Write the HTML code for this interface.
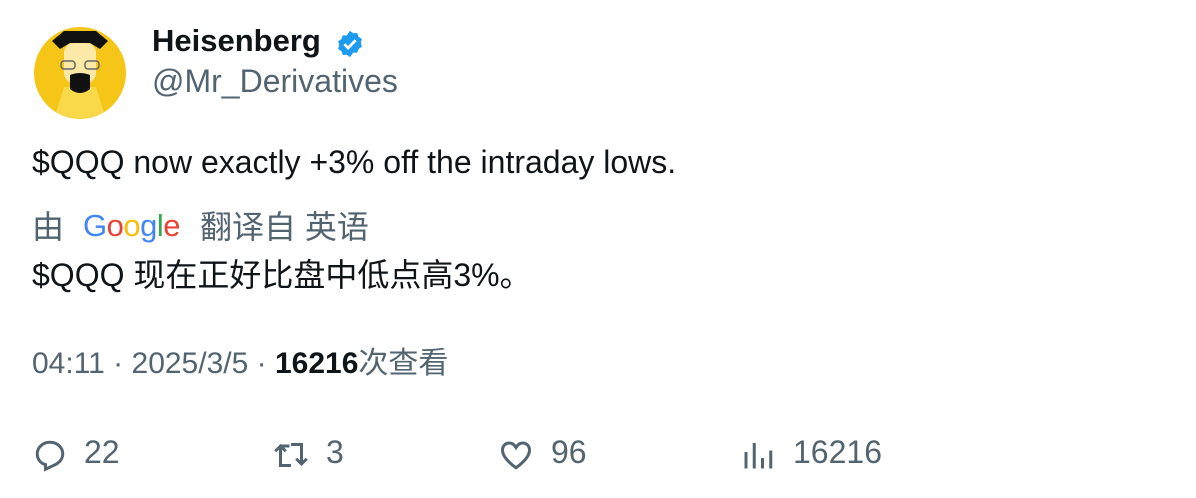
<!DOCTYPE html>
<html><head><meta charset="utf-8"><style>
body{margin:0;width:1196px;height:498px;background:#fff;position:relative;overflow:hidden;font-family:"Liberation Sans","Noto Sans CJK SC",sans-serif;color:#0f1419}
.a{position:absolute;white-space:nowrap;line-height:30px;font-size:30px}
.g{color:#536471}
</style></head><body>
<svg style="position:absolute;left:34px;top:27px" width="92" height="92" viewBox="0 0 92 92">
<defs><clipPath id="c"><circle cx="46" cy="46" r="46"/></clipPath></defs>
<g clip-path="url(#c)">
<rect width="92" height="92" fill="#f5c518"/>
<path d="M20 92 L30 60 L62 60 L72 92Z" fill="#f9d94a"/>
<rect x="30" y="16" width="32" height="40" rx="10" fill="#fbe9a8"/>
<path d="M18 14 L30 4 L62 4 L74 14 L66 22 L56 16 L36 16 L26 22Z" fill="#111"/>
<rect x="27" y="34" width="14" height="8" rx="3" fill="none" stroke="#666" stroke-width="1.5"/>
<rect x="51" y="34" width="14" height="8" rx="3" fill="none" stroke="#666" stroke-width="1.5"/>
<path d="M36 48 Q46 44 56 48 L56 62 Q46 70 36 62Z" fill="#111"/>
</g>
</svg>
<div class="a" style="left:152px;top:26px;font-weight:bold;font-size:31px">Heisenberg</div>
<svg style="position:absolute;left:335px;top:29px" width="30" height="30" viewBox="0 0 24 24"><path d="M12 1.5l2.6 1.9 3.2-.2 1 3 2.7 1.8-.9 3.1.9 3.1-2.7 1.8-1 3-3.2-.2L12 22.5l-2.6-1.9-3.2.2-1-3-2.7-1.8.9-3.1-.9-3.1 2.7-1.8 1-3 3.2.2z" fill="#1d9bf0"/><path d="M7.5 12.2l3 3 6-6.2" fill="none" stroke="#fff" stroke-width="2.2"/></svg>
<div class="a g" style="left:152px;top:65px;font-size:32px;line-height:32px">@Mr_Derivatives</div>
<div class="a" style="left:32px;top:146px;font-size:32px;line-height:32px">$QQQ now exactly +3% off the intraday lows.</div>
<div class="a g" style="left:32px;top:211px;font-size:32px;line-height:32px">由</div>
<div class="a" style="left:83px;top:211px;font-size:31px;letter-spacing:-0.5px"><span style="color:#4285f4">G</span><span style="color:#ea4335">o</span><span style="color:#fbbc05">o</span><span style="color:#4285f4">g</span><span style="color:#34a853">l</span><span style="color:#ea4335">e</span></div>
<div class="a g" style="left:200px;top:211px;font-size:32px;line-height:32px">翻译自 英语</div>
<div class="a" style="left:32px;top:259px;font-size:32px;line-height:32px">$QQQ 现在正好比盘中低点高3%。</div>
<div class="a g" style="left:32px;top:349px">04:11 · 2025/3/5 · <b style="color:#0f1419">16216</b>次查看</div>
<svg style="position:absolute;left:32px;top:437px" width="36" height="36" viewBox="0 0 24 24"><path d="M12 3.5c4.7 0 8.5 3.4 8.5 7.7 0 3.6-2.6 6.2-5.8 7.6L9 21.5v-3.1C5.6 17.6 3.5 14.8 3.5 11.2 3.5 6.9 7.3 3.5 12 3.5z" fill="none" stroke="#536471" stroke-width="2"/></svg>
<div class="a g" style="left:84px;top:436px;font-size:32px;line-height:32px">22</div>
<svg style="position:absolute;left:272px;top:437px" width="38" height="36" viewBox="0 0 24 24"><path d="M5 20V6M1.5 9.5L5 6l3.5 3.5M12 5h7v13M15.5 14.5L19 18l3.5-3.5M12 19H5" fill="none" stroke="#536471" stroke-width="2"/><path d="M5 6h6" stroke="#536471" stroke-width="2"/></svg>
<div class="a g" style="left:326px;top:436px;font-size:32px;line-height:32px">3</div>
<svg style="position:absolute;left:498px;top:437px" width="36" height="36" viewBox="0 0 24 24"><path d="M12 20.5S3 14.5 3 8.8C3 6 5 4 7.5 4c2 0 3.5 1.3 4.5 3 1-1.7 2.5-3 4.5-3C19 4 21 6 21 8.8c0 5.7-9 11.7-9 11.7z" fill="none" stroke="#536471" stroke-width="2"/></svg>
<div class="a g" style="left:551px;top:436px;font-size:32px;line-height:32px">96</div>
<svg style="position:absolute;left:740px;top:437px" width="36" height="36" viewBox="0 0 24 24"><path d="M4 21V10M9.5 21V4M15 21V14M20.5 21V9" stroke="#536471" stroke-width="2"/></svg>
<div class="a g" style="left:793px;top:436px;font-size:32px;line-height:32px">16216</div>
</body></html>
